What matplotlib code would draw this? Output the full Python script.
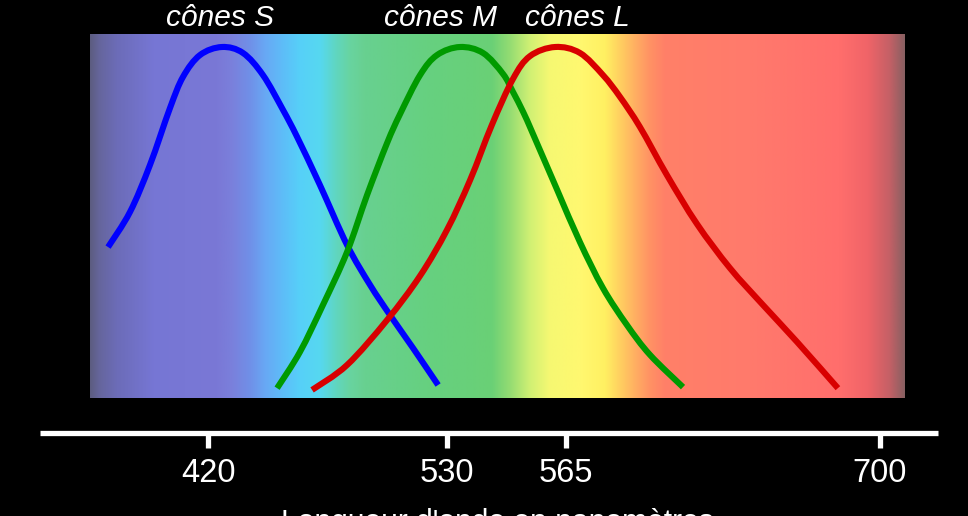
import numpy as np
import matplotlib
matplotlib.use("Agg")
import matplotlib.pyplot as plt
from matplotlib.colors import LinearSegmentedColormap
from matplotlib.scale import FuncScale
from matplotlib.path import Path
from matplotlib.patches import PathPatch

# ---------------- data ----------------
TICKS = [420, 530, 565, 700]
TICK_LABELS = ["420", "530", "565", "700"]
CONE_LABELS = ["cônes S", "cônes M", "cônes L"]
X_TITLE = "Longueur d'onde en nanomètres"

S_WL = [374.0, 384.1, 393.3, 402.5, 408.5, 416.3, 426.4, 436.1, 445.3, 454.5,
        461.0, 471.5, 484.0, 494.6, 503.8, 514.4, 525.9]
S_VAL = [0.430, 0.530, 0.664, 0.826, 0.915, 0.977, 1.000, 0.983, 0.920, 0.821,
         0.744, 0.607, 0.436, 0.322, 0.236, 0.142, 0.037]

M_WL = [451.8, 462.3, 472.9, 484.0, 493.2, 502.4, 508.4, 517.6, 525.4, 533.8,
        540.6, 546.5, 549.4, 552.4, 555.3, 562.4, 571.0, 580.9, 591.2, 601.1, 615.3]
M_VAL = [0.028, 0.131, 0.265, 0.416, 0.578, 0.726, 0.809, 0.920, 0.977, 1.000,
         0.983, 0.923, 0.872, 0.815, 0.752, 0.593, 0.444, 0.313, 0.208, 0.123, 0.031]

L_WL = [467.9, 484.0, 502.4, 517.6, 530.0, 536.8, 543.2, 549.4, 554.4, 561.8,
        571.0, 580.9, 588.2, 596.8, 608.4, 621.3, 635.5, 649.7, 664.3, 681.9]
L_VAL = [0.023, 0.094, 0.222, 0.348, 0.479, 0.621, 0.778, 0.909, 0.974, 1.000,
         0.983, 0.920, 0.858, 0.772, 0.635, 0.496, 0.370, 0.265, 0.160, 0.028]

# ---------------- layout / style ----------------
W, H = 968, 516
DPI = 100
# schematic (non-linear) wavelength axis: tick wavelengths -> pixel columns
AX_PX = [208, 447, 566, 880]


def _pw(x, xs, ys):
    x = np.asarray(x, dtype=float)
    y = np.interp(x, xs, ys)
    s0 = (ys[1] - ys[0]) / (xs[1] - xs[0])
    s1 = (ys[-1] - ys[-2]) / (xs[-1] - xs[-2])
    y = np.where(x < xs[0], ys[0] + (x - xs[0]) * s0, y)
    y = np.where(x > xs[-1], ys[-1] + (x - xs[-1]) * s1, y)
    return y


def fwd(x):
    return _pw(x, TICKS, AX_PX)


def inv(p):
    return _pw(p, AX_PX, TICKS)


def figx(px):
    return px / W


def figy(py):
    return (H - py) / H


SPEC_STOPS = [
    (90, "#5c5c80"), (100, "#66669e"), (117, "#6c6cb8"), (153, "#7676d4"),
    (217, "#7a78d6"), (232, "#7a80dc"), (250, "#7090e8"), (265, "#68a8f4"),
    (282, "#5ebcf8"), (300, "#56d0f8"), (320, "#56d8f0"), (336, "#60d6c0"),
    (350, "#68d4a0"), (365, "#68d090"),
    (427, "#66d080"), (492, "#6ad076"), (510, "#94dc72"), (530, "#d0f074"),
    (550, "#f6f872"), (580, "#fff870"), (605, "#fff062"), (620, "#ffd060"),
    (635, "#ffb062"), (650, "#ff9264"), (665, "#ff8068"), (750, "#ff7a6c"),
    (840, "#ff6e6c"), (868, "#f06468"), (890, "#c46066"), (905, "#886062"),
]
SPEC_L, SPEC_R, SPEC_T, SPEC_B = 90, 905, 34, 398
AX_L, AX_R, AX_T, AX_B = 40, 938, 34, 433

plt.rcParams['font.family'] = ['Liberation Sans', 'DejaVu Sans']

fig = plt.figure(figsize=(W / DPI, H / DPI), dpi=DPI, facecolor="black")

# spectrum background
bg = fig.add_axes([figx(SPEC_L), figy(SPEC_B), (SPEC_R - SPEC_L) / W,
                   (SPEC_B - SPEC_T) / H], zorder=0)
cmap = LinearSegmentedColormap.from_list(
    "spec", [((p - SPEC_L) / (SPEC_R - SPEC_L), c) for p, c in SPEC_STOPS], N=1024)
bg.imshow(np.linspace(0, 1, 1024)[None, :], cmap=cmap, aspect="auto",
          extent=[0, 1, 0, 1], interpolation="bilinear")
bg.set_axis_off()

# main axes
ax = fig.add_axes([figx(AX_L), figy(AX_B), (AX_R - AX_L) / W, (AX_B - AX_T) / H],
                  zorder=1)
ax.set_facecolor("none")
ax.set_xscale(FuncScale(ax.xaxis, (fwd, inv)))
ax.set_xlim(float(inv(AX_L)), float(inv(AX_R)))


def v_of(py):
    return (SPEC_B - py) / (SPEC_B - 47)


ax.set_ylim(v_of(AX_B), v_of(AX_T))


def smooth_curve(wl, val, color):
    """Smooth (Catmull-Rom -> cubic Bezier) line through the read points."""
    px = fwd(wl)
    v = np.asarray(val, dtype=float)
    P = np.column_stack([px, v])
    n = len(P)
    verts = [P[0]]
    codes = [Path.MOVETO]
    for i in range(n - 1):
        p0 = P[max(i - 1, 0)]
        p1 = P[i]
        p2 = P[i + 1]
        p3 = P[min(i + 2, n - 1)]
        c1 = p1 + (p2 - p0) / 6.0
        c2 = p2 - (p3 - p1) / 6.0
        verts += [c1, c2, p2]
        codes += [Path.CURVE4] * 3
    verts = np.array(verts)
    verts[:, 0] = inv(verts[:, 0])
    patch = PathPatch(Path(verts, codes), facecolor="none", edgecolor=color,
                      lw=4.4, capstyle="butt", joinstyle="round",
                      transform=ax.transData)
    ax.add_patch(patch)
    # invisible anchor line so the series is also a regular plot artist
    ax.plot(wl, val, lw=0, color=color)


smooth_curve(S_WL, S_VAL, "#0000ff")
smooth_curve(M_WL, M_VAL, "#009a00")
smooth_curve(L_WL, L_VAL, "#d80000")

for side in ["top", "left", "right"]:
    ax.spines[side].set_visible(False)
ax.spines["bottom"].set_color("white")
ax.spines["bottom"].set_linewidth(3.8)
ax.spines["bottom"].set_capstyle("butt")
ax.set_yticks([])
ax.set_xticks(TICKS, labels=TICK_LABELS)
ax.xaxis.set_minor_locator(matplotlib.ticker.NullLocator())
ax.tick_params(axis="x", direction="out", length=11, width=3.8, color="white",
               labelcolor="white", labelsize=23.5, pad=24)
for t in ax.xaxis.get_major_ticks():
    t.label1.set_verticalalignment("baseline")

# cone labels
for txt, cx in zip(CONE_LABELS, [220, 441, 577]):
    fig.text(figx(cx), figy(26), txt, color="white", fontsize=21.5,
             style="italic", ha="center", va="baseline")

# axis title (cut by the lower edge, as in the reference)
fig.text(figx(497), figy(529.5), X_TITLE, color="white", fontsize=21.6,
         ha="center", va="baseline")

fig.savefig("out.png", dpi=DPI, facecolor="black")
